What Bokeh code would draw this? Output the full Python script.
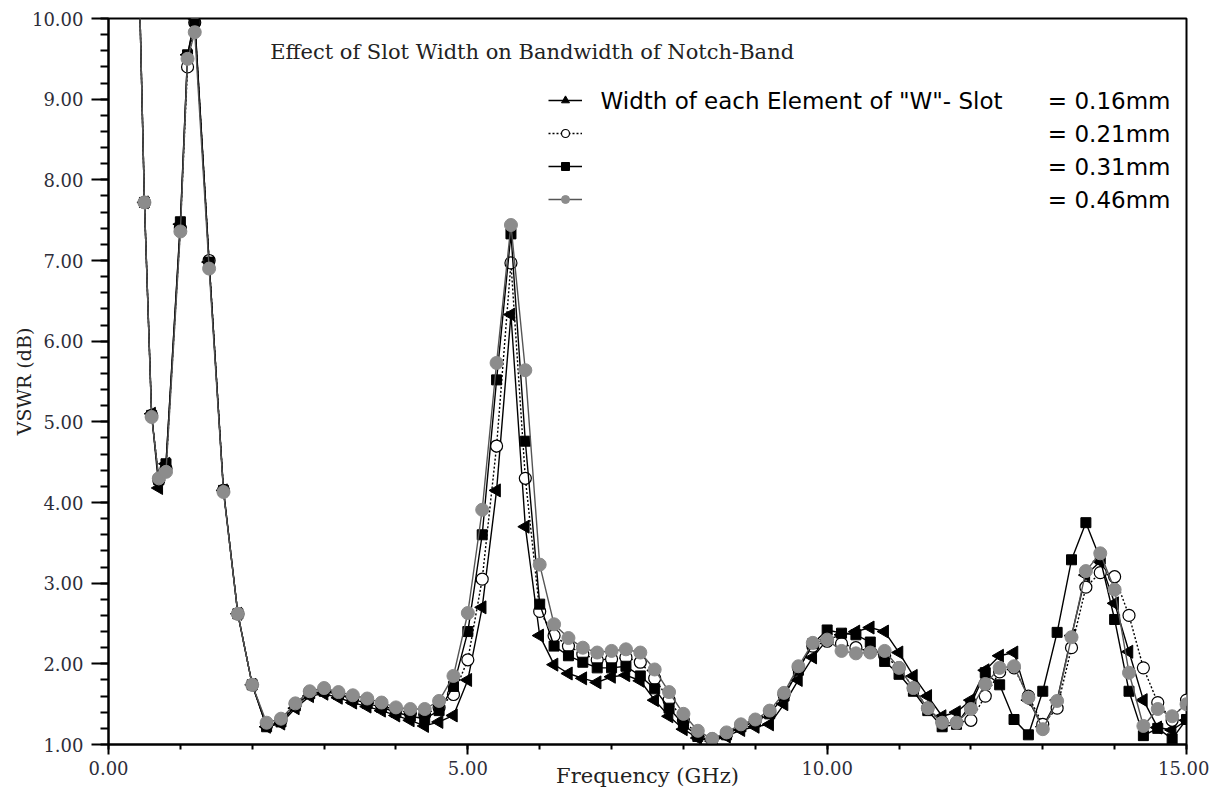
from bokeh.plotting import figure
from bokeh.models import (ColumnDataSource, Label, Legend, LegendItem, Range1d,
                          SingleIntervalTicker, NumeralTickFormatter)
from bokeh.core.properties import value
from bokeh.embed import file_html
from bokeh.resources import INLINE

# ---------------- data ----------------
freq = [0.4, 0.5, 0.6, 0.7, 0.8, 1.0, 1.1, 1.2, 1.4, 1.6, 1.8, 2.0,
        2.2, 2.4, 2.6, 2.8, 3.0, 3.2, 3.4, 3.6, 3.8, 4.0, 4.2, 4.4, 4.6, 4.8,
        5.0, 5.2, 5.4, 5.6, 5.8, 6.0,
        6.2, 6.4, 6.6, 6.8, 7.0, 7.2, 7.4, 7.6, 7.8, 8.0, 8.2, 8.4, 8.6, 8.8, 9.0, 9.2, 9.4, 9.6, 9.8,
        10.0, 10.2, 10.4, 10.6, 10.8, 11.0, 11.2, 11.4, 11.6, 11.8, 12.0, 12.2, 12.4, 12.6, 12.8,
        13.0, 13.2, 13.4, 13.6, 13.8, 14.0, 14.2, 14.4, 14.6, 14.8, 15.0]

vswr_016 = [11.5, 7.72, 5.10, 4.18, 4.48, 7.45, 9.55, 10.0, 6.98, 4.15, 2.62, 1.74,
            1.22, 1.26, 1.45, 1.60, 1.63, 1.58, 1.52, 1.47, 1.42, 1.36, 1.30, 1.23, 1.28, 1.36,
            1.80, 2.70, 4.15, 6.33, 3.70, 2.35,
            1.99, 1.88, 1.82, 1.77, 1.84, 1.86, 1.79, 1.55, 1.35, 1.19, 1.08, 1.04, 1.10, 1.18, 1.22, 1.25, 1.50, 1.80, 2.08,
            2.30, 2.36, 2.40, 2.45, 2.40, 2.14, 1.85, 1.60, 1.35, 1.40, 1.55, 1.92, 2.10, 2.14, 1.55,
            1.22, 1.55, 2.35, 3.10, 3.27, 2.75, 2.15, 1.55, 1.21, 1.18, 1.30]

vswr_021 = [11.5, 7.72, 5.08, 4.28, 4.42, 7.40, 9.40, 9.95, 7.00, 4.15, 2.62, 1.74,
            1.24, 1.30, 1.50, 1.65, 1.68, 1.63, 1.58, 1.54, 1.48, 1.43, 1.39, 1.37, 1.46, 1.62,
            2.05, 3.05, 4.70, 6.97, 4.30, 2.65,
            2.35, 2.22, 2.12, 2.05, 2.06, 2.08, 2.02, 1.82, 1.55, 1.30, 1.12, 1.07, 1.13, 1.24, 1.30, 1.40, 1.62, 1.95, 2.22,
            2.28, 2.25, 2.20, 2.15, 2.10, 1.95, 1.70, 1.45, 1.28, 1.27, 1.30, 1.60, 1.90, 1.95, 1.60,
            1.25, 1.45, 2.20, 2.95, 3.13, 3.08, 2.60, 1.95, 1.52, 1.30, 1.55]

vswr_031 = [11.5, 7.72, 5.08, 4.28, 4.48, 7.48, 9.55, 9.97, 6.98, 4.15, 2.62, 1.74,
            1.22, 1.28, 1.48, 1.63, 1.66, 1.62, 1.56, 1.51, 1.46, 1.40, 1.35, 1.32, 1.42, 1.72,
            2.40, 3.60, 5.52, 7.33, 4.76, 2.74,
            2.22, 2.10, 2.02, 1.95, 1.95, 1.97, 1.85, 1.69, 1.45, 1.25, 1.10, 1.05, 1.12, 1.22, 1.28, 1.38, 1.60, 1.92, 2.25,
            2.42, 2.38, 2.36, 2.27, 2.03, 1.87, 1.66, 1.42, 1.22, 1.25, 1.50, 1.89, 1.74, 1.31, 1.12,
            1.66, 2.39, 3.29, 3.75, 3.30, 2.55, 1.66, 1.11, 1.20, 1.07, 1.31]

vswr_046 = [11.5, 7.72, 5.06, 4.30, 4.38, 7.36, 9.50, 9.83, 6.90, 4.13, 2.62, 1.74,
            1.27, 1.32, 1.51, 1.66, 1.70, 1.65, 1.61, 1.57, 1.52, 1.46, 1.44, 1.44, 1.54, 1.85,
            2.63, 3.91, 5.73, 7.44, 5.64, 3.23,
            2.49, 2.32, 2.20, 2.14, 2.16, 2.18, 2.14, 1.93, 1.65, 1.38, 1.17, 1.07, 1.15, 1.25, 1.31, 1.42, 1.64, 1.97, 2.26,
            2.30, 2.16, 2.13, 2.14, 2.16, 1.95, 1.70, 1.45, 1.27, 1.27, 1.44, 1.75, 1.95, 1.97, 1.58,
            1.19, 1.54, 2.33, 3.15, 3.37, 2.92, 1.89, 1.23, 1.44, 1.35, 1.50]

series_labels = ['Width of each Element of "W"- Slot', "= 0.16mm", "= 0.21mm", "= 0.31mm", "= 0.46mm"]
title_text = "Effect of Slot Width on Bandwidth of Notch-Band"
x_title = "Frequency (GHz)"
y_title = "VSWR (dB)"

# ---------------- figure ----------------
p = figure(width=1209, height=790, output_backend="svg", toolbar_location=None,
           x_range=Range1d(0, 15), y_range=Range1d(1, 10),
           min_border_left=108, min_border_right=23, min_border_top=18, min_border_bottom=45)
p.background_fill_color = "white"
p.border_fill_color = "white"
p.outline_line_color = "black"
p.outline_line_width = 2
p.xgrid.visible = False
p.ygrid.visible = False

serif = "DejaVu Serif"
sans = "DejaVu Sans"

p.xaxis.ticker = SingleIntervalTicker(interval=5, num_minor_ticks=5)
p.yaxis.ticker = SingleIntervalTicker(interval=1, num_minor_ticks=5)
for ax in (p.xaxis, p.yaxis):
    ax.formatter = NumeralTickFormatter(format="0.00")
    ax.axis_line_width = 2
    ax.axis_line_color = "black"
    ax.major_tick_line_width = 2
    ax.minor_tick_line_width = 2
    ax.major_tick_in = 0
    ax.minor_tick_in = 0
    ax.major_label_text_font = serif
    ax.major_label_text_font_size = "18px"
    ax.major_label_text_color = "#2e2e3a"
    ax.axis_label_text_font = serif
    ax.axis_label_text_font_style = "normal"
    ax.axis_label_text_color = "#222222"
p.xaxis.major_tick_out = 10
p.xaxis.minor_tick_out = 5
p.xaxis.major_label_standoff = 6
p.yaxis.major_tick_out = 17
p.yaxis.minor_tick_out = 8
p.yaxis.major_label_standoff = 8

p.xaxis.axis_label = x_title
p.xaxis.axis_label_text_font_size = "21px"
p.xaxis.axis_label_standoff = -14
p.yaxis.axis_label = y_title
p.yaxis.axis_label_text_font_size = "19px"
p.yaxis.axis_label_standoff = -6

src = ColumnDataSource(dict(f=freq, a=vswr_016, b=vswr_021, c=vswr_031, d=vswr_046))

l1 = p.line("f", "a", source=src, line_color="black", line_width=1.4)
m1 = p.scatter("f", "a", source=src, marker="triangle", angle=1.5708, size=13,
               fill_color="black", line_color="black")
l2 = p.line("f", "b", source=src, line_color="black", line_width=1.4, line_dash="2 2")
m2 = p.scatter("f", "b", source=src, marker="circle", size=12,
               fill_color="white", line_color="black", line_width=1.2)
l3 = p.line("f", "c", source=src, line_color="black", line_width=1.4)
m3 = p.scatter("f", "c", source=src, marker="square", size=10,
               fill_color="black", line_color="black")
l4 = p.line("f", "d", source=src, line_color="#555555", line_width=1.4)
m4 = p.scatter("f", "d", source=src, marker="circle", size=13,
               fill_color="#8c8c8c", line_color="#8c8c8c")

legend = Legend(items=[LegendItem(label=value(" "), renderers=[l1, m1]),
                       LegendItem(label=value(" "), renderers=[l2, m2]),
                       LegendItem(label=value(" "), renderers=[l3, m3]),
                       LegendItem(label=value(" "), renderers=[l4, m4])],
                location=(440, 535), padding=0, margin=0, spacing=13,
                glyph_width=34, glyph_height=20, label_height=20, label_width=0,
                label_standoff=0, border_line_alpha=0, background_fill_alpha=0)
p.add_layout(legend)

# in-plot title and legend texts
p.add_layout(Label(x=2.25, y=9.58, text=title_text, text_font=serif, text_font_size="21px",
                   text_align="left", text_baseline="middle", text_color="#222222"))

rows_y = [8.976, 8.574, 8.16, 7.75]
p.add_layout(Label(x=6.846, y=rows_y[0], text=series_labels[0], text_font=sans, text_font_size="23px",
                   text_align="left", text_baseline="middle", text_color="black"))
for i in range(4):
    p.add_layout(Label(x=14.777, y=rows_y[i], text=series_labels[i + 1], text_font=sans,
                       text_font_size="23px", text_align="right", text_baseline="middle",
                       text_color="black"))

open("out.html", "w").write(file_html(p, INLINE))
